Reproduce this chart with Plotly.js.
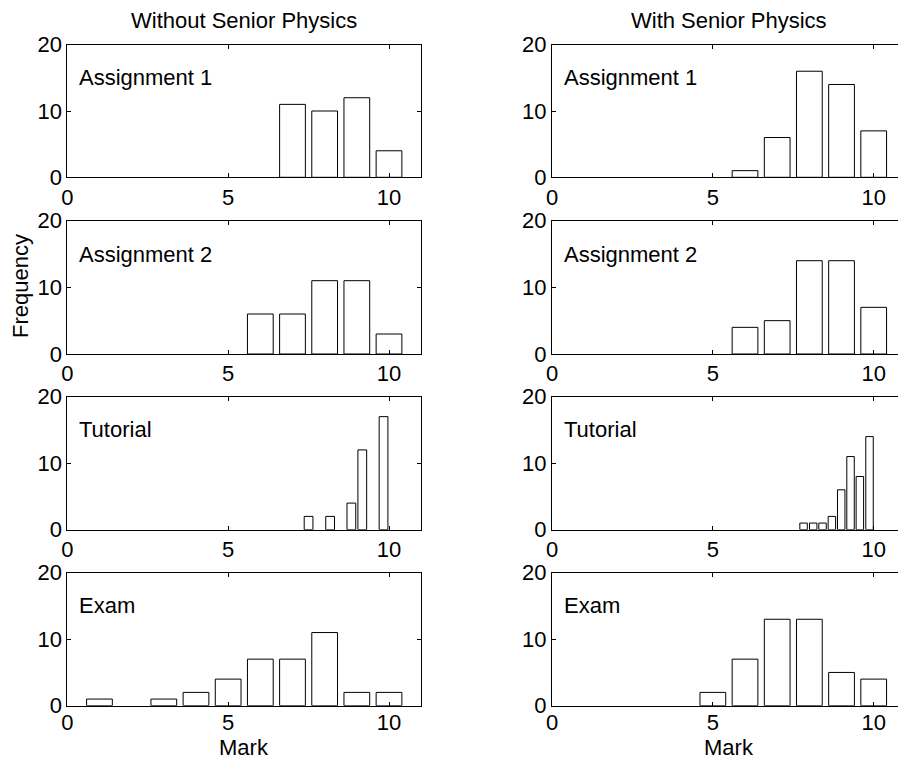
<!DOCTYPE html>
<html>
<head>
<meta charset="utf-8">
<script src="https://cdn.plot.ly/plotly-3.0.1.min.js"></script>
<style>html,body{margin:0;padding:0;background:#fff;}#chart{width:898px;height:761px;}</style>
</head>
<body>
<div id="chart"></div>
<script>
// ---- data ----
const marks = [1, 2, 3, 4, 5, 6, 7, 8, 9, 10];
const assign1Without = [0, 0, 0, 0, 0, 0, 11, 10, 12, 4];
const assign1With    = [0, 0, 0, 0, 0, 1, 6, 16, 14, 7];
const assign2Without = [0, 0, 0, 0, 0, 6, 6, 11, 11, 3];
const assign2With    = [0, 0, 0, 0, 0, 4, 5, 14, 14, 7];
const tutorialWithoutMarks = [7.5, 8.17, 8.83, 9.17, 9.83];
const tutorialWithout      = [2, 2, 4, 12, 17];
const tutorialWithMarks = [7.82, 8.12, 8.41, 8.70, 8.99, 9.28, 9.57, 9.87];
const tutorialWith      = [1, 1, 1, 2, 6, 11, 8, 14];
const examWithout = [1, 0, 1, 2, 4, 7, 7, 11, 2, 2];
const examWith    = [0, 0, 0, 0, 2, 7, 13, 13, 5, 4];
const panelLabels = ['Assignment 1', 'Assignment 2', 'Tutorial', 'Exam'];
const columnTitles = ['Without Senior Physics', 'With Senior Physics'];
const xTickVals = [0, 5, 10];
const yTickVals = [0, 10, 20];
const xLabel = 'Mark';
const yLabel = 'Frequency';

// ---- layout ----
const W = 898, H = 761;
const FONT = '"Liberation Sans", Arial, Helvetica, sans-serif';
const FS = 22;
const pxPerUnit = 32.17;
const colLeft = [67.3, 552];           // pixel x of mark 0
const rowTop = [44.7, 220.7, 396.7, 572.7];
const rowBot = [177.3, 354, 529.7, 705.7];

const panels = [
  [[marks, assign1Without], [marks, assign1With]],
  [[marks, assign2Without], [marks, assign2With]],
  [[tutorialWithoutMarks, tutorialWithout], [tutorialWithMarks, tutorialWith]],
  [[marks, examWithout], [marks, examWith]]
];

function spacing(xs) {
  let m = Infinity;
  for (let i = 1; i < xs.length; i++) m = Math.min(m, xs[i] - xs[i - 1]);
  return m;
}

const traces = [];
const layout = {
  width: W, height: H,
  margin: {l: 0, r: 0, t: 0, b: 0},
  paper_bgcolor: '#fff', plot_bgcolor: '#fff',
  showlegend: false,
  font: {family: FONT, size: FS, color: '#000'},
  bargap: 0,
  annotations: []
};

let k = 0;
for (let r = 0; r < 4; r++) {
  for (let c = 0; c < 2; c++) {
    k++;
    const xsAll = panels[r][c][0], ysAll = panels[r][c][1];
    const bw = 0.8 * spacing(xsAll);
    const xs = [], ys = [];
    xsAll.forEach((x, i) => { if (ysAll[i] > 0) { xs.push(x); ys.push(ysAll[i]); } });
    const xa = 'x' + (k === 1 ? '' : k), ya = 'y' + (k === 1 ? '' : k);
    traces.push({
      type: 'bar', x: xs, y: ys, xaxis: xa, yaxis: ya,
      width: xs.map(() => bw),
      marker: {color: '#fff', line: {color: '#000', width: 1}},
      hoverinfo: 'x+y'
    });
    const x0 = colLeft[c];
    const x1 = Math.min(W, x0 + 11 * pxPerUnit);
    const xmax = (x1 - x0) / pxPerUnit;
    const axX = {
      domain: [x0 / W, x1 / W], range: [0, xmax],
      anchor: ya, tickvals: xTickVals, ticktext: xTickVals.map(String),
      ticks: 'inside', ticklen: 4, tickwidth: 1, tickcolor: '#000',
      ticklabelstandoff: r === 3 ? -3 : 0,
      showline: true, linecolor: '#000', linewidth: 1, mirror: 'ticks',
      showgrid: false, zeroline: false,
      tickfont: {family: FONT, size: FS, color: '#000'},
      fixedrange: true
    };
    const axY = {
      domain: [1 - rowBot[r] / H, 1 - rowTop[r] / H], range: [0, 20],
      anchor: xa, tickvals: yTickVals, ticktext: yTickVals.map(String),
      ticks: 'inside', ticklen: 4, tickwidth: 1, tickcolor: '#000',
      showline: true, linecolor: '#000', linewidth: 1, mirror: c === 0 ? 'ticks' : false,
      showgrid: false, zeroline: false,
      tickfont: {family: FONT, size: FS, color: '#000'},
      fixedrange: true
    };
    layout['xaxis' + (k === 1 ? '' : k)] = axX;
    layout['yaxis' + (k === 1 ? '' : k)] = axY;
    layout.annotations.push({
      xref: xa, yref: ya, x: 0.3, y: 15, xanchor: 'left', yanchor: 'middle',
      text: panelLabels[r], showarrow: false,
      font: {family: FONT, size: FS, color: '#000'}
    });
    if (r === 0) {
      layout.annotations.push({
        xref: 'paper', yref: 'paper', x: (x0 + 5.5 * pxPerUnit) / W, y: 1 - 21 / H,
        xanchor: 'center', yanchor: 'middle', text: columnTitles[c], showarrow: false,
        font: {family: FONT, size: FS, color: '#000'}
      });
    }
    if (r === 3) {
      layout.annotations.push({
        xref: 'paper', yref: 'paper', x: (x0 + 5.5 * pxPerUnit) / W, y: 0,
        xanchor: 'center', yanchor: 'bottom', borderpad: 0, text: xLabel, showarrow: false,
        font: {family: FONT, size: FS, color: '#000'}
      });
    }
  }
}
layout.annotations.push({
  xref: 'paper', yref: 'paper', x: 20 / W, y: 1 - 286 / H,
  xanchor: 'center', yanchor: 'middle', textangle: -90, text: yLabel, showarrow: false,
  font: {family: FONT, size: FS, color: '#000'}
});

Plotly.newPlot('chart', traces, layout, {staticPlot: true, displayModeBar: false});
</script>
</body>
</html>
